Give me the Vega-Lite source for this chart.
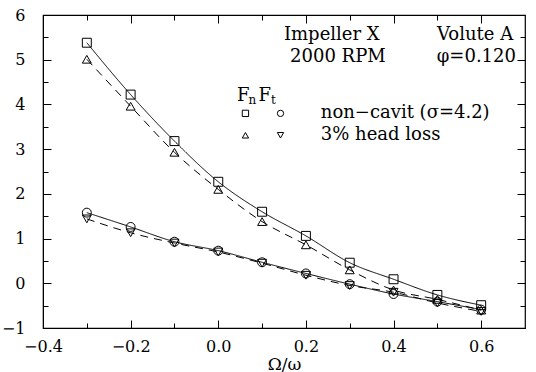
{
  "$schema": "https://vega.github.io/schema/vega-lite/v6.json",
  "autosize": "none",
  "width": 482,
  "height": 313,
  "padding": {"left": 43, "top": 15, "right": 11, "bottom": 44},
  "background": "white",
  "config": {
    "view": {"stroke": "black", "strokeWidth": 1.2},
    "axis": {"labelFont": "DejaVu Serif", "titleFont": "DejaVu Serif", "labelColor": "black", "titleColor": "black", "domainColor": "black", "tickColor": "black", "grid": false, "labelFontSize": 16, "titleFontSize": 17, "titleFontWeight": "normal"}
  },
  "datasets": {
    "pts": [
      {"x": -0.3, "v": 5.38, "s": "Fn non", "c": "non"},
      {"x": -0.2, "v": 4.22, "s": "Fn non", "c": "non"},
      {"x": -0.1, "v": 3.18, "s": "Fn non", "c": "non"},
      {"x": 0.0, "v": 2.27, "s": "Fn non", "c": "non"},
      {"x": 0.1, "v": 1.60, "s": "Fn non", "c": "non"},
      {"x": 0.2, "v": 1.06, "s": "Fn non", "c": "non"},
      {"x": 0.3, "v": 0.46, "s": "Fn non", "c": "non"},
      {"x": 0.4, "v": 0.09, "s": "Fn non", "c": "non"},
      {"x": 0.5, "v": -0.26, "s": "Fn non", "c": "non"},
      {"x": 0.6, "v": -0.49, "s": "Fn non", "c": "non"},
      {"x": -0.3, "v": 5.01, "s": "Fn 3", "c": "3"},
      {"x": -0.2, "v": 3.96, "s": "Fn 3", "c": "3"},
      {"x": -0.1, "v": 2.93, "s": "Fn 3", "c": "3"},
      {"x": 0.0, "v": 2.10, "s": "Fn 3", "c": "3"},
      {"x": 0.1, "v": 1.38, "s": "Fn 3", "c": "3"},
      {"x": 0.2, "v": 0.86, "s": "Fn 3", "c": "3"},
      {"x": 0.3, "v": 0.30, "s": "Fn 3", "c": "3"},
      {"x": 0.4, "v": -0.15, "s": "Fn 3", "c": "3"},
      {"x": 0.5, "v": -0.36, "s": "Fn 3", "c": "3"},
      {"x": 0.6, "v": -0.6, "s": "Fn 3", "c": "3"},
      {"x": -0.3, "v": 1.58, "s": "Ft non", "c": "non"},
      {"x": -0.2, "v": 1.26, "s": "Ft non", "c": "non"},
      {"x": -0.1, "v": 0.93, "s": "Ft non", "c": "non"},
      {"x": 0.0, "v": 0.73, "s": "Ft non", "c": "non"},
      {"x": 0.1, "v": 0.47, "s": "Ft non", "c": "non"},
      {"x": 0.2, "v": 0.22, "s": "Ft non", "c": "non"},
      {"x": 0.3, "v": -0.02, "s": "Ft non", "c": "non"},
      {"x": 0.4, "v": -0.24, "s": "Ft non", "c": "non"},
      {"x": 0.5, "v": -0.41, "s": "Ft non", "c": "non"},
      {"x": 0.6, "v": -0.59, "s": "Ft non", "c": "non"},
      {"x": -0.3, "v": 1.44, "s": "Ft 3", "c": "3"},
      {"x": -0.2, "v": 1.13, "s": "Ft 3", "c": "3"},
      {"x": -0.1, "v": 0.90, "s": "Ft 3", "c": "3"},
      {"x": 0.0, "v": 0.70, "s": "Ft 3", "c": "3"},
      {"x": 0.1, "v": 0.45, "s": "Ft 3", "c": "3"},
      {"x": 0.2, "v": 0.18, "s": "Ft 3", "c": "3"},
      {"x": 0.3, "v": -0.05, "s": "Ft 3", "c": "3"},
      {"x": 0.4, "v": -0.20, "s": "Ft 3", "c": "3"},
      {"x": 0.5, "v": -0.44, "s": "Ft 3", "c": "3"},
      {"x": 0.6, "v": -0.63, "s": "Ft 3", "c": "3"}
    ],
    "leg": [
      {"x": 0.062, "v": 3.8, "s": "Fn non"},
      {"x": 0.142, "v": 3.8, "s": "Ft non"},
      {"x": 0.062, "v": 3.31, "s": "Fn 3"},
      {"x": 0.142, "v": 3.31, "s": "Ft 3"}
    ],
    "center": [
      {"x": 0.259, "v": 5.56, "t": "Impeller X"},
      {"x": 0.586, "v": 5.56, "t": "Volute A"},
      {"x": 0.273, "v": 5.06, "t": "2000 RPM"},
      {"x": 0.589, "v": 5.06, "t": "φ=0.120"}
    ],
    "left": [
      {"x": 0.234, "v": 3.81, "t": "non−cavit (σ=4.2)"},
      {"x": 0.234, "v": 3.32, "t": "3% head loss"}
    ],
    "fbig": [
      {"x": 0.057, "v": 4.19, "t": "F"},
      {"x": 0.106, "v": 4.19, "t": "F"}
    ],
    "fsub": [
      {"x": 0.078, "v": 4.1, "t": "n"},
      {"x": 0.126, "v": 4.1, "t": "t"}
    ]
  },
  "resolve": {"axis": {"x": "independent", "y": "independent"}},
  "layer": [
    {
      "data": {"name": "pts"},
      "mark": {"type": "line", "interpolate": "monotone", "color": "black", "strokeWidth": 1},
      "encoding": {
        "x": {"field": "x", "type": "quantitative", "scale": {"domain": [-0.4, 0.7], "nice": false, "zero": false},
          "axis": {"orient": "bottom", "title": "Ω/ω", "titlePadding": 2,
            "values": [-0.4, -0.2, 0, 0.2, 0.4, 0.6],
            "format": ".1f", "tickSize": -8, "labelPadding": 18, "labelFlush": false}},
        "y": {"field": "v", "type": "quantitative", "scale": {"domain": [-1, 6], "nice": false, "zero": false},
          "axis": {"orient": "left", "title": null,
            "values": [-1, 0, 1, 2, 3, 4, 5, 6],
            "format": "d", "tickSize": -8, "labelPadding": 26, "labelFlush": false}},
        "detail": {"field": "s"},
        "strokeDash": {"field": "c", "type": "nominal", "scale": {"domain": ["non", "3"], "range": [[1, 0], [8, 6]]}, "legend": null}
      }
    },
    {
      "data": {"name": "pts"},
      "mark": {"type": "point", "filled": false, "color": "black", "strokeWidth": 1, "size": 80, "opacity": 1},
      "encoding": {
        "x": {"field": "x", "type": "quantitative",
          "axis": {"orient": "bottom", "title": null, "labels": false, "domain": false, "tickSize": -5,
            "values": [-0.3, -0.1, 0.1, 0.3, 0.5]}},
        "y": {"field": "v", "type": "quantitative",
          "axis": {"orient": "left", "title": null, "labels": false, "domain": false, "tickSize": -5,
            "values": [-0.5, 0.5, 1.5, 2.5, 3.5, 4.5, 5.5]}},
        "shape": {"field": "s", "type": "nominal", "scale": {"domain": ["Fn non", "Fn 3", "Ft non", "Ft 3"], "range": ["square", "triangle-up", "circle", "triangle-down"]}, "legend": null}
      }
    },
    {
      "data": {"name": "leg"},
      "mark": {"type": "point", "filled": false, "color": "black", "strokeWidth": 1, "size": 40, "opacity": 1},
      "encoding": {
        "x": {"field": "x", "type": "quantitative",
          "axis": {"orient": "top", "title": null, "labels": false, "domain": false, "tickSize": -5,
            "values": [-0.3, -0.1, 0.1, 0.3, 0.5]}},
        "y": {"field": "v", "type": "quantitative",
          "axis": {"orient": "right", "title": null, "labels": false, "domain": false, "tickSize": -5,
            "values": [-0.5, 0.5, 1.5, 2.5, 3.5, 4.5, 5.5]}},
        "shape": {"field": "s", "type": "nominal", "legend": null}
      }
    },
    {
      "data": {"name": "center"},
      "mark": {"type": "text", "font": "DejaVu Serif", "fontSize": 18, "color": "black", "baseline": "middle", "align": "center"},
      "encoding": {
        "x": {"field": "x", "type": "quantitative", "axis": null},
        "y": {"field": "v", "type": "quantitative", "axis": null},
        "text": {"field": "t"}
      }
    },
    {
      "data": {"name": "left"},
      "mark": {"type": "text", "font": "DejaVu Serif", "fontSize": 18, "color": "black", "baseline": "middle", "align": "left"},
      "encoding": {
        "x": {"field": "x", "type": "quantitative", "axis": null},
        "y": {"field": "v", "type": "quantitative", "axis": null},
        "text": {"field": "t"}
      }
    },
    {
      "data": {"name": "fbig"},
      "mark": {"type": "text", "font": "DejaVu Serif", "fontSize": 18, "color": "black", "baseline": "middle", "align": "center"},
      "encoding": {
        "x": {"field": "x", "type": "quantitative", "axis": null},
        "y": {"field": "v", "type": "quantitative", "axis": null},
        "text": {"field": "t"}
      }
    },
    {
      "data": {"name": "fsub"},
      "mark": {"type": "text", "font": "DejaVu Serif", "fontSize": 12, "color": "black", "baseline": "middle", "align": "center"},
      "encoding": {
        "x": {"field": "x", "type": "quantitative", "axis": null},
        "y": {"field": "v", "type": "quantitative", "axis": null},
        "text": {"field": "t"}
      }
    },
    {
      "mark": {"type": "rule", "color": "black", "strokeWidth": 1.2},
      "encoding": {
        "y": {"datum": 0, "type": "quantitative",
          "axis": {"orient": "right", "title": null, "labels": false, "domain": false, "tickSize": -8,
            "values": [-1, 0, 1, 2, 3, 4, 5, 6]}},
        "x": {"datum": -0.4, "type": "quantitative",
          "axis": {"orient": "top", "title": null, "labels": false, "domain": false, "tickSize": -8,
            "values": [-0.4, -0.2, 0, 0.2, 0.4, 0.6]}},
        "x2": {"datum": 0.7}
      }
    }
  ]
}
